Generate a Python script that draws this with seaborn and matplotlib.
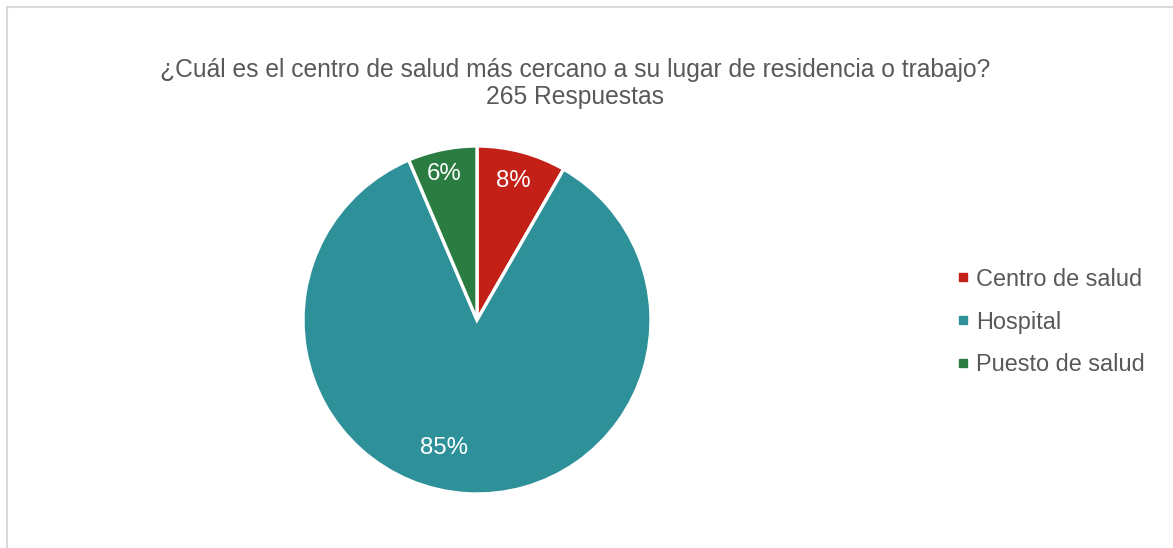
import matplotlib
matplotlib.use("Agg")
import matplotlib.pyplot as plt
from matplotlib.patches import Rectangle
from matplotlib.lines import Line2D
import seaborn as sns

sns.set_theme(style="white")
plt.rcParams["font.family"] = ["Liberation Sans", "DejaVu Sans"]

# Survey answers (265 responses)
categories = ["Centro de salud", "Hospital", "Puesto de salud"]
counts = [22, 226, 17]
colors = ["#C32117", "#2E9199", "#2A7C41"]
title_lines = ["¿Cuál es el centro de salud más cercano a su lugar de residencia o trabajo?",
               "265 Respuestas"]

text_gray = "#595959"

W, H = 1173, 548
fig = plt.figure(figsize=(W / 100, H / 100), dpi=100)
fig.patch.set_facecolor("white")

# Chart-area frame (top and left edges visible)
fig.add_artist(Rectangle((6.5 / W, -0.1), 1.2, 1.1 - 7.5 / H, transform=fig.transFigure,
                         fill=False, edgecolor="#D9D9D9", linewidth=1.5))

cx, cy, r = 477, 320, 174
ax = fig.add_axes([(cx - r) / W, (H - cy - r) / H, 2 * r / W, 2 * r / H])
wedges, _ = ax.pie(counts, colors=colors, startangle=90, counterclock=False,
                   radius=1.0, wedgeprops=dict(edgecolor="white", linewidth=2.4))
ax.set_xlim(-1, 1)
ax.set_ylim(-1, 1)
ax.set_aspect("equal")
ax.axis("off")

# Percentage labels placed inside each wedge
total = sum(counts)
label_pos = [(0.21, 0.80), (-0.19, -0.735), (-0.19, 0.84)]
for (x, y), c in zip(label_pos, counts):
    ax.text(x, y, f"{round(100 * c / total)}%", ha="center", va="center",
            color="white", fontsize=17.3)

fig.text(575 / W, 1 - 70 / H, title_lines[0], ha="center", va="center",
         fontsize=17.7, color=text_gray)
fig.text(575 / W, 1 - 97 / H, title_lines[1], ha="center", va="center",
         fontsize=17.7, color=text_gray)

handles = [Line2D([0], [0], marker="s", linestyle="none", markersize=6,
                  markerfacecolor=c, markeredgecolor=c) for c in colors]
fig.legend(handles, categories, loc="center left",
           bbox_to_anchor=(947 / W, 1 - 322 / H), frameon=False,
           fontsize=16.9, labelcolor=text_gray, handlelength=0.6,
           handletextpad=0.25, labelspacing=0.85, borderaxespad=0)

fig.savefig("out.png", dpi=100, facecolor="white")
